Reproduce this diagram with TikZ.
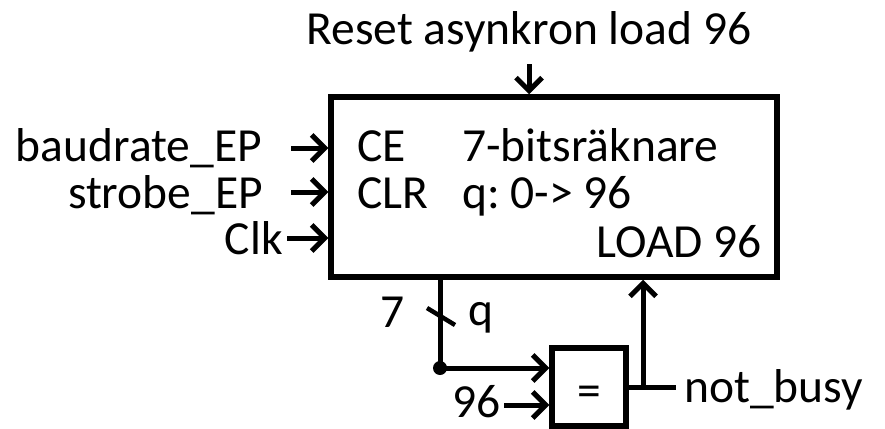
\documentclass[tikz,border=0pt]{standalone}
\usepackage{fontspec}
\setmainfont{Carlito}
\usetikzlibrary{arrows.meta}
\begin{document}
\begin{tikzpicture}[x=1pt,y=-1pt,
  lbl/.style={inner sep=0pt, font=\fontsize{47.5}{56}\selectfont\frenchspacing},
  wire/.style={line width=5pt},
  arr/.style={line width=5pt, -{Straight Barb[length=13pt,width=26pt]}},
  boxst/.style={draw, line width=5.5pt, inner sep=0pt}]
\useasboundingbox (0,0) rectangle (885,428);
% main counter box
\node[boxst, minimum width=446pt, minimum height=180pt] (ctr) at (554,187) {};
% top label
\node[lbl, anchor=base] (rst) at (529,45) {Reset asynkron load 96};
\coordinate (rstend) at (529,64);
\draw[arr] (rstend) -- (ctr.north -| rstend);
% inside texts
\node[lbl, anchor=base west] (ce) at (357,161) {CE};
\node[lbl, anchor=base west] (clr) at (357,208) {CLR};
\node[lbl, anchor=base west] (title) at (462,161) {7-bitsräknare};
\node[lbl, anchor=base west] (range) at (462,208) {q: 0-> 96};
\node[lbl, anchor=base east] (load) at (762,257) {LOAD 96};
% left inputs
\node[lbl, anchor=base east] (baud) at (262,161) {baudrate\_EP};
\node[lbl, anchor=base east] (strobe) at (263,208) {strobe\_EP};
\node[lbl, anchor=base east] (clk) at (283,254) {Clk};
\coordinate (a1) at (291,148);
\coordinate (a2) at (291,192);
\coordinate (a3) at (287,238);
\draw[arr] (a1) -- (ctr.west |- a1);
\draw[arr] (a2) -- (ctr.west |- a2);
\draw[arr] (a3) -- (ctr.west |- a3);
% q bus
\coordinate (qtop) at (440,277);
\coordinate (dot) at (440,368);
\draw[wire] (ctr.south -| qtop) -- (dot);
\draw[line width=4.5pt] (427,308) -- (455,325);
\node[lbl, anchor=base] (seven) at (393,327) {7};
\node[lbl, anchor=base west] (qlbl) at (468,325) {q};
\fill (dot) circle (7pt);
% comparator
\node[boxst, minimum width=74pt, minimum height=78pt] (eq) at (589,387) {};
\node[lbl, anchor=base] (eqsign) at (589,406) {=};
\draw[arr] (dot) -- (eq.west |- dot);
\node[lbl, anchor=base east] (n96) at (501,417) {96};
\coordinate (c96) at (504,405);
\draw[arr] (c96) -- (eq.west |- c96);
% output
\coordinate (outend) at (676,387);
\coordinate (junc) at (643,387);
\draw[wire] (eq.east |- outend) -- (outend);
\draw[arr] (junc) -- (ctr.south -| junc);
\node[lbl, anchor=base west] (nb) at (684,402) {not\_busy};
\end{tikzpicture}
\end{document}
